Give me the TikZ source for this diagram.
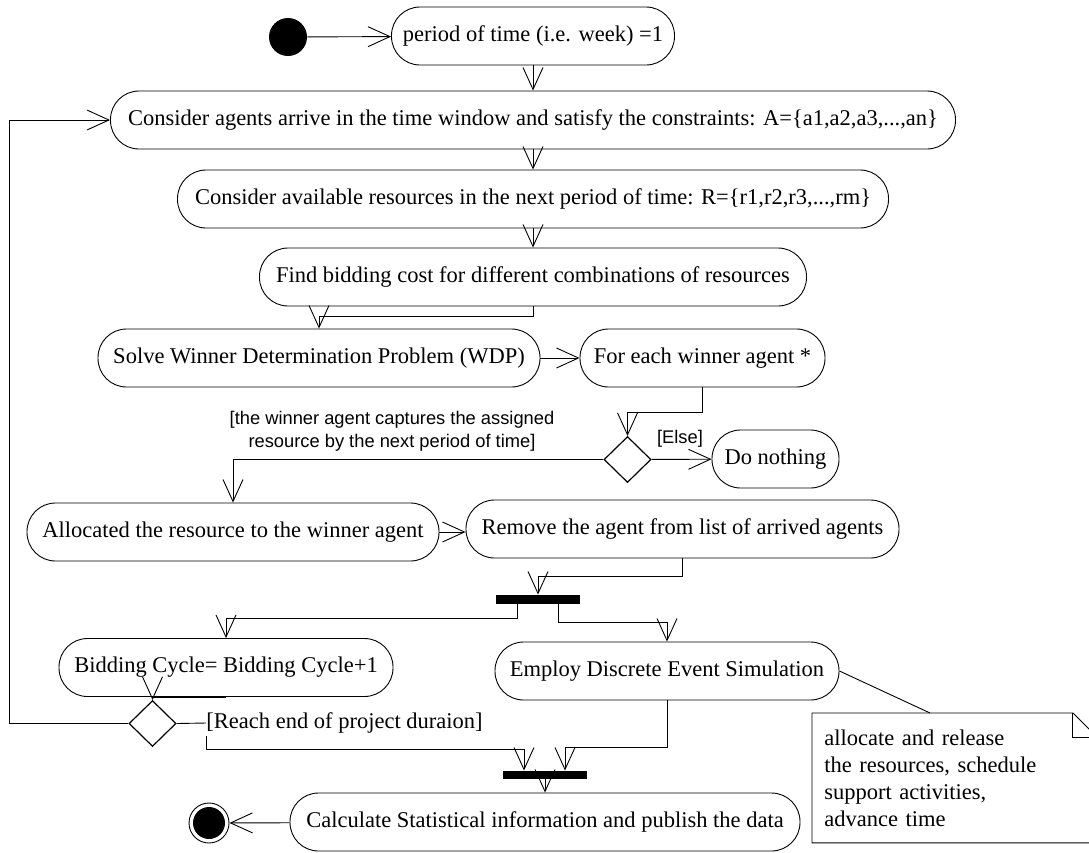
\documentclass[tikz,border=0pt]{standalone}
\usepackage{fontspec}
\setmainfont{Liberation Serif}
\newfontfamily\guardfam{Liberation Sans}
\usetikzlibrary{arrows.meta,shapes.geometric,calc}
\newcommand\actfont{\fontsize{22.5}{27}\selectfont}
\newcommand\grdfont{\guardfam\fontsize{18.3}{23}\selectfont}
\begin{document}
\begin{tikzpicture}[x=1pt,y=-1pt,line width=0.9pt,
  act/.style={draw, rounded corners=28.5pt, minimum height=58pt, inner xsep=4pt, inner ysep=0pt, font=\actfont},
  arr/.style={-{Straight Barb[length=22pt,width=20pt,line width=0.9pt]}},
  forkbar/.style={fill=black, draw=none, inner sep=0pt, minimum width=84pt},
  dia/.style={diamond, draw, inner sep=0pt, minimum width=47pt, minimum height=46pt, line width=1.2pt},
  grd/.style={font=\grdfont, inner sep=0pt},
]
\useasboundingbox (0,0) rectangle (1089,852);

% activity nodes
\node[circle, fill=black, minimum size=38pt, inner sep=0pt] (start) at (288,37) {};
\node[act, minimum width=283pt] (period) at (533,36) {period of time (i.e. week) =1};
\node[act, minimum width=845pt] (agents) at (533,120) {Consider agents arrive in the time window and satisfy the constraints: A=\{a1,a2,a3,...,an\}};
\node[act, minimum width=711pt] (resources) at (533,199) {Consider available resources in the next period of time: R=\{r1,r2,r3,...,rm\}};
\node[act, minimum width=547pt] (find) at (533,277) {Find bidding cost for different combinations of resources};
\node[act, minimum width=442pt] (wdp) at (319,358) {Solve Winner Determination Problem (WDP)};
\node[act, minimum width=245pt] (foreach) at (702.5,358) {For each winner agent *};
\node[dia] (d1) at (627.5,459.5) {};
\node[act, minimum width=127pt] (nothing) at (775.5,459) {Do nothing};
\node[act, minimum width=412pt] (alloc) at (233,532) {Allocated the resource to the winner agent};
\node[act, minimum width=433pt] (remove) at (682.5,529) {Remove the agent from list of arrived agents};
\node[forkbar, minimum height=9pt] (fork1) at (538,599.5) {};
\node[act, minimum width=334pt] (bidding) at (226,667.5) {Bidding Cycle= Bidding Cycle+1};
\node[act, minimum width=344pt] (employ) at (667,671) {Employ Discrete Event Simulation};
\node[dia] (d2) at (152.5,723.5) {};
\node[font=\actfont, inner xsep=0pt, inner ysep=2pt, anchor=west] (reach) at (206,723) {[Reach end of project duraion]};
\node[forkbar, minimum height=8pt] (fork2) at (545,775) {};
\node[act, minimum width=510pt] (calc) at (545,822) {Calculate Statistical information and publish the data};
\node[circle, draw, minimum size=40pt, inner sep=0pt] (final) at (209,823) {};
\fill (final.center) circle[radius=16pt];

% guard labels
\node[grd, align=center] (glab) at (392,431) {[the winner agent captures the assigned\\resource by the next period of time]};
\node[grd] (elselab) at (680,439) {[Else]};

% note
\node[anchor=north west, minimum width=284pt, minimum height=129pt, inner xsep=12pt, inner ysep=0pt, text width=260pt, align=left, font=\actfont] (note) at (812,713) {allocate and release\\the resources, schedule\\support activities,\\advance time};
\draw (note.north west) -- ([xshift=-24pt]note.north east) -- ([yshift=-24pt]note.north east) -- (note.south east) -- (note.south west) -- cycle;
\draw ([xshift=-24pt]note.north east) |- ([yshift=-24pt]note.north east);

% connectors
\draw[arr] (start) -- (period);
\draw[arr] (period) -- (agents);
\draw[arr] (agents) -- (resources);
\draw[arr] (resources) -- (find);
\draw[arr] (find.south) -- ++(0,10) -| (wdp.north);
\draw[arr] (wdp) -- (foreach);
\draw[arr] (foreach.south) -- ++(0,25) -| (d1.north);
\draw[arr] (d1) -- (nothing);
\draw[arr] (d1.west) -| (alloc.north);
\draw[arr] (alloc.east) -- (alloc.east -| remove.west);
\draw[arr] (remove.south) -- ++(0,18) -| (fork1.north);
\draw[arr] ([xshift=-21pt]fork1.south) -- ++(0,14) -| (bidding.north);
\draw[arr] ([xshift=20pt]fork1.south) -- ++(0,18) -| (employ.north);
\draw[arr] (bidding.south) -| (d2.north);
\draw[arr] (d2.west) -- ++(-119,0) |- (agents.west);
\draw (d2.east) -- (reach.west);
\draw[arr] (reach.south west) -- ++(0,14) -| ([xshift=-21pt]fork2.north);
\draw[arr] (employ.south) -- ++(0,47) -| ([xshift=20pt]fork2.north);
\draw[arr] (fork2) -- (calc);
\draw[arr] (calc) -- (final);
\draw (employ.east) -- ([xshift=118pt]note.north west);
\end{tikzpicture}
\end{document}
